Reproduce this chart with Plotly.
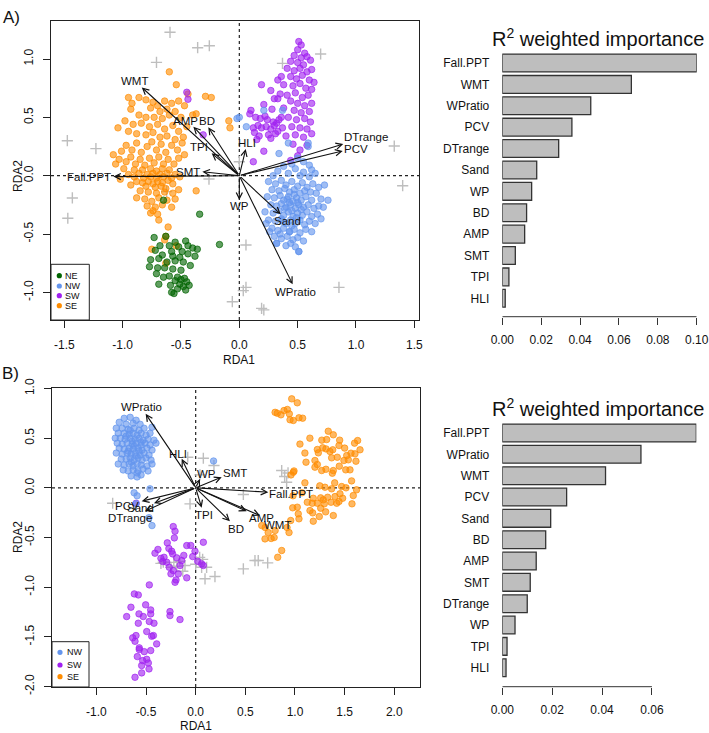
import plotly.graph_objects as go

FONT = "Liberation Sans, Arial, sans-serif"
W, H = 709, 733

# ---------------- Panel A data ----------------
A_SE = [(-0.60,0.89),(-0.54,0.78),(-0.44,0.70),(-0.29,0.68),(-0.24,0.67),(-0.95,0.67),(-0.86,0.67),(-0.92,0.62),(-0.80,0.65),(-0.74,0.63),(-0.70,0.60),(-0.64,0.64),(-0.58,0.62),(-0.52,0.64),(-0.47,0.60),(-0.76,0.58),(-0.68,0.55),(-0.62,0.57),(-0.55,0.55),(-0.93,0.57),(-0.86,0.52),(-0.80,0.50),(-0.73,0.50),(-0.66,0.49),(-0.60,0.52),(-0.50,0.50),(-0.40,0.52),(-0.37,0.53),(-0.09,0.47),(-0.08,0.41),(-1.04,0.41),(-0.98,0.47),(-0.91,0.44),(-0.84,0.45),(-0.77,0.42),(-0.70,0.44),(-0.64,0.40),(-0.57,0.43),(-0.52,0.38),(-0.45,0.42),(-0.95,0.38),(-0.88,0.36),(-0.80,0.35),(-0.74,0.37),(-0.68,0.33),(-0.62,0.34),(-0.55,0.31),(-0.48,0.33),
        (-1.08,0.18),(-1.06,0.10),(-1.01,0.21),(-0.97,0.26),(-0.92,0.22),(-0.88,0.28),(-0.84,0.20),(-0.79,0.25),(-0.75,0.29),(-0.71,0.22),(-0.67,0.27),(-0.63,0.20),(-0.58,0.26),(-0.53,0.22),(-0.49,0.28),(-0.47,0.18),(-1.03,0.14),(-0.97,0.12),(-0.93,0.16),(-0.89,0.10),(-0.85,0.14),(-0.81,0.09),(-0.77,0.15),(-0.73,0.11),(-0.69,0.16),(-0.65,0.10),(-0.61,0.14),(-0.56,0.10),(-0.52,0.15),(-0.90,0.05),(-0.83,0.05),(-0.76,0.06),(-0.71,0.04),(-0.66,0.06),(-0.60,0.05),(-0.99,0.06),
        (-0.95,0.01),(-0.90,-0.01),(-0.86,0.02),(-0.82,-0.02),(-0.79,0.01),(-0.76,-0.01),(-0.74,0.02),(-0.71,-0.02),(-0.68,0.01),(-0.65,-0.01),(-0.62,0.02),(-0.58,-0.02),(-0.55,0.01),(-0.51,-0.01),(-0.88,-0.05),(-0.83,-0.06),(-0.78,-0.05),(-0.74,-0.07),(-0.70,-0.05),(-0.66,-0.06),(-0.61,-0.04),(-0.57,-0.07),(-0.80,-0.09),(-0.72,-0.10),(-0.67,-0.09),(-0.63,-0.11),(-0.93,-0.08),(-1.02,-0.03),
        (-0.85,-0.13),(-0.78,-0.14),(-0.71,-0.15),(-0.64,-0.14),(-0.57,-0.15),(-0.52,-0.12),(-0.37,-0.13),(-0.88,-0.19),(-0.81,-0.20),(-0.75,-0.22),(-0.69,-0.19),(-0.62,-0.21),(-0.55,-0.20),(-0.79,-0.26),(-0.72,-0.27),(-0.66,-0.25),(-0.58,-0.27),(-0.76,-0.32),(-0.70,-0.33),(-0.74,-0.30),(-0.69,-0.38),
        (-0.61,-0.44),(-0.63,-0.52),(-0.75,-0.63),(-0.63,-0.75),(-0.54,-0.60),(-0.64,-0.55)]

A_NW = [(-0.02,0.49),(0.06,0.42),(0.21,0.56),(0.37,0.56),(0.59,0.28),(0.59,0.25),(0.42,0.28),(0.34,0.19),(0.00,0.50),(0.50,0.15),(0.55,0.12),(0.45,0.10),(0.62,0.05),(0.60,0.09),
        (0.38,0.08),(0.48,0.06),(0.55,0.03),(0.33,0.04),(0.42,0.02),(0.52,0.00),(0.60,-0.01),(0.65,0.02),(0.29,0.00),
        (0.25,-0.05),(0.31,-0.07),(0.36,-0.04),(0.40,-0.08),(0.45,-0.05),(0.50,-0.09),(0.54,-0.06),(0.58,-0.10),(0.63,-0.07),(0.68,-0.10),(0.73,-0.08),(0.28,-0.12),(0.34,-0.13),(0.39,-0.11),(0.43,-0.14),(0.47,-0.12),(0.52,-0.15),(0.56,-0.13),(0.61,-0.14),(0.66,-0.15),
        (0.24,-0.18),(0.30,-0.19),(0.35,-0.17),(0.38,-0.21),(0.42,-0.18),(0.46,-0.22),(0.49,-0.19),(0.53,-0.21),(0.57,-0.18),(0.62,-0.21),(0.70,-0.20),(0.76,-0.21),(0.27,-0.25),(0.32,-0.26),(0.36,-0.24),(0.40,-0.27),(0.44,-0.25),(0.48,-0.28),(0.51,-0.25),(0.55,-0.27),(0.59,-0.25),(0.64,-0.28),(0.68,-0.26),(0.72,-0.27),
        (0.22,-0.31),(0.29,-0.32),(0.34,-0.30),(0.38,-0.34),(0.42,-0.31),(0.46,-0.35),(0.50,-0.32),(0.54,-0.34),(0.58,-0.31),(0.62,-0.35),(0.67,-0.33),(0.25,-0.38),(0.31,-0.39),(0.36,-0.37),(0.40,-0.41),(0.44,-0.38),(0.48,-0.41),(0.52,-0.38),(0.56,-0.42),(0.60,-0.39),(0.65,-0.41),(0.70,-0.37),
        (0.28,-0.45),(0.33,-0.47),(0.38,-0.45),(0.43,-0.48),(0.47,-0.46),(0.52,-0.49),(0.57,-0.46),(0.62,-0.48),(0.30,-0.52),(0.36,-0.54),(0.41,-0.52),(0.46,-0.55),(0.50,-0.53),(0.55,-0.56),(0.32,-0.58),(0.40,-0.60),(0.48,-0.61),(0.51,-0.65),(0.44,-0.58),(0.35,-0.50),(0.26,-0.48),(0.23,-0.41),
        (0.41,-0.20),(0.45,-0.30),(0.49,-0.36),(0.43,-0.23),(0.47,-0.16),(0.39,-0.28),(0.53,-0.29),(0.37,-0.39),(0.45,-0.43),(0.50,-0.23),(0.51,-0.65),(0.32,-0.58),(0.43,-0.48)]

A_SW = [(0.51,1.15),(0.53,1.12),(0.50,1.08),(0.56,1.05),(0.47,1.03),(0.53,1.01),(0.58,1.02),(0.61,0.99),(0.44,0.98),(0.50,0.97),(0.55,0.95),(0.41,0.92),(0.47,0.90),(0.52,0.92),(0.58,0.89),(0.62,0.91),(0.36,0.85),(0.44,0.85),(0.49,0.83),(0.54,0.86),(0.60,0.82),(0.64,0.80),(0.38,0.78),(0.46,0.77),(0.52,0.79),(0.57,0.75),(0.62,0.74),(0.35,0.70),(0.41,0.69),(0.48,0.71),(0.54,0.67),(0.59,0.69),(0.30,0.66),(0.44,0.64),(0.50,0.62),(0.56,0.60),(0.62,0.62),(0.38,0.58),(0.47,0.56),(0.53,0.54),(0.60,0.55),(0.42,0.50),(0.49,0.48),(0.56,0.49),(0.61,0.46),(0.45,0.42),(0.52,0.41),(0.58,0.40),(0.62,0.36),(0.55,0.33),(0.48,0.35),(0.58,0.26),(0.52,0.22),(0.46,0.27),(0.50,0.17),(0.44,0.13),
        (0.09,0.53),(0.10,0.56),(0.14,0.50),(0.18,0.49),(0.22,0.51),(0.24,0.48),(0.29,0.46),(0.32,0.45),(0.34,0.48),(0.36,0.50),(0.12,0.41),(0.16,0.43),(0.19,0.41),(0.23,0.42),(0.27,0.40),(0.30,0.43),(0.33,0.38),(0.37,0.41),(0.13,0.37),(0.17,0.34),(0.15,0.31),(0.25,0.35),(0.27,0.32),(0.31,0.36),(0.40,0.34),(0.12,0.12),(0.21,0.21),(0.19,0.78),(0.27,0.73),(0.33,0.82),(0.33,0.66),(0.28,0.57),(0.21,0.61),
        (-0.45,0.715),(-0.44,0.655),(-0.31,0.35)]

A_NE = [(-0.34,-0.33),(-0.17,-0.59),(-0.65,-0.21),(-0.73,-0.53),(-0.63,-0.52),(-0.55,-0.57),(-0.46,-0.56),(-0.44,-0.60),(-0.40,-0.62),(-0.68,-0.60),(-0.60,-0.60),(-0.52,-0.61),(-0.49,-0.65),(-0.58,-0.65),(-0.72,-0.64),(-0.66,-0.68),(-0.57,-0.69),(-0.51,-0.70),(-0.44,-0.67),(-0.38,-0.69),(-0.76,-0.72),(-0.69,-0.71),(-0.62,-0.74),(-0.55,-0.73),(-0.48,-0.74),(-0.42,-0.77),(-0.77,-0.78),(-0.70,-0.79),(-0.64,-0.79),(-0.57,-0.80),(-0.50,-0.81),(-0.71,-0.84),(-0.60,-0.86),(-0.53,-0.87),(-0.50,-0.89),(-0.47,-0.88),(-0.55,-0.90),(-0.45,-0.91),(-0.51,-0.93),(-0.48,-0.95),(-0.43,-0.94),(-0.69,-0.93),(-0.59,-0.94),(-0.53,-0.97),(-0.58,-1.00),(-0.56,-1.01),(-0.46,-0.98),(-0.36,-0.63),(-0.65,-0.87)]

A_OTHER = [(-0.594,1.229),(-0.357,1.097),(-0.257,1.114),(-0.71,0.971),(0.37,0.963),(0.697,1.043),(-1.474,0.30),(-1.229,0.232),(-1.431,-0.191),(-1.47,-0.365),(-0.623,-0.137),(-0.26,-0.029),(0.057,-0.594),(0.057,-0.957),(0.034,-0.985),(-0.06,-1.08),(0.191,-1.137),(0.21,-1.15),(0.854,-0.957),(1.328,0.254),(1.40,-0.086),(0.0,0.12)]

A_VARS = ["WMT","AMP","BD","TPI","HLI","SMT","Fall.PPT","WP","Sand","WPratio","DTrange","PCV"]
A_TIP_X = [-0.836,-0.394,-0.266,-0.237,0.055,-0.317,-1.080,0.000,0.355,0.457,0.891,0.886]
A_TIP_Y = [0.757,0.420,0.415,0.192,0.229,0.034,-0.008,-0.208,-0.331,-0.931,0.272,0.212]
A_LAB_X = [-0.896,-0.465,-0.280,-0.343,0.069,-0.437,-1.285,0.000,0.411,0.480,1.086,1.000]
A_LAB_Y = [0.814,0.471,0.471,0.249,0.278,0.034,-0.008,-0.257,-0.391,-0.997,0.329,0.231]

# ---------------- Panel B data ----------------
B_NW = [(-0.72,0.70),(-0.66,0.71),(-0.60,0.68),(-0.77,0.66),(-0.70,0.64),(-0.63,0.65),(-0.56,0.64),(-0.80,0.60),(-0.74,0.60),(-0.68,0.59),(-0.62,0.60),(-0.57,0.58),(-0.52,0.60),(-0.44,0.61),(-0.78,0.55),(-0.72,0.55),(-0.67,0.54),(-0.63,0.55),(-0.59,0.53),(-0.55,0.55),(-0.50,0.53),(-0.46,0.55),(-0.81,0.50),(-0.76,0.50),(-0.71,0.49),(-0.66,0.50),(-0.61,0.49),(-0.57,0.50),(-0.53,0.48),(-0.48,0.49),(-0.42,0.48),(-0.79,0.45),(-0.74,0.44),(-0.69,0.45),(-0.64,0.44),(-0.60,0.45),(-0.55,0.43),(-0.51,0.45),(-0.46,0.43),(-0.40,0.45),(-0.77,0.40),(-0.72,0.39),(-0.67,0.40),(-0.63,0.39),(-0.58,0.40),(-0.54,0.38),(-0.49,0.40),(-0.44,0.38),(-0.80,0.35),(-0.74,0.34),(-0.69,0.35),(-0.65,0.34),(-0.61,0.35),(-0.56,0.33),(-0.52,0.35),(-0.47,0.33),(-0.75,0.29),(-0.70,0.29),(-0.66,0.30),(-0.62,0.28),(-0.58,0.30),(-0.54,0.28),(-0.50,0.30),(-0.45,0.28),(-0.78,0.24),(-0.72,0.23),(-0.67,0.24),(-0.63,0.22),(-0.59,0.24),(-0.55,0.23),(-0.49,0.22),(-0.44,0.24),(-0.73,0.18),(-0.68,0.17),(-0.63,0.18),(-0.58,0.17),(-0.53,0.19),(-0.48,0.17),(-0.65,0.12),(-0.59,0.11),(-0.55,0.13),(-0.59,0.15),(-0.59,-0.08),(-0.60,-0.16),(-0.44,-0.38),(0.18,0.27),(-0.62,-0.05),(-0.66,0.58),(-0.70,0.52),(-0.64,0.47),(-0.62,0.42),(-0.68,0.37),(-0.60,0.32),(-0.65,0.26),(-0.55,0.46),(-0.57,0.37),(-0.46,-0.01),(-0.47,-0.30)]

B_SW = [(-0.467,-0.977),(-0.618,-1.068),(-0.578,-1.078),(-0.652,-1.202),(-0.695,-1.296),(-0.504,-1.178),(-0.453,-1.229),(-0.453,-1.269),(-0.571,-1.269),(-0.528,-1.296),(-0.259,-1.246),(-0.259,-1.286),(-0.158,-1.326),(-0.578,-1.363),(-0.467,-1.346),(-0.420,-1.363),(-0.493,-1.447),(-0.443,-1.494),(-0.601,-1.487),(-0.426,-1.487),(-0.611,-1.545),(-0.393,-1.571),(-0.568,-1.611),(-0.568,-1.628),(-0.518,-1.649),(-0.453,-1.638),(-0.588,-1.699),(-0.534,-1.739),(-0.493,-1.726),(-0.477,-1.763),(-0.544,-1.789),(-0.470,-1.823),(-0.544,-1.863),(-0.611,-1.907),(-0.634,-1.510),
        (-0.226,-0.390),(-0.208,-0.437),(-0.286,-0.554),(-0.215,-0.504),(-0.090,-0.581),(0.077,-0.548),(-0.007,-0.638),(-0.410,-0.658),(-0.242,-0.638),(-0.232,-0.665),(-0.319,-0.699),(-0.191,-0.705),(-0.141,-0.732),(-0.030,-0.692),(-0.292,-0.749),(-0.266,-0.800),(-0.226,-0.833),(-0.158,-0.782),(-0.249,-0.866),(-0.175,-0.866),(-0.090,-0.906),(-0.198,-0.927),(-0.332,-0.742),(0.060,-0.765),(-0.38,-0.62),(-0.35,-0.71),(-0.27,-0.61),(-0.12,-0.68),(-0.05,-0.58),(0.02,-0.74),(-0.208,-0.951),(0.077,-0.782),(-0.60,-0.155)]

B_SE = [(0.967,0.896),(1.023,0.856),(0.822,0.751),(0.859,0.735),(0.889,0.778),(0.923,0.789),(0.943,0.745),(0.950,0.685),(0.983,0.678),(1.040,0.705),(1.077,0.701),(0.800,0.760),
        (1.335,0.570),(1.386,0.534),(1.319,0.486),(1.631,0.476),(1.443,0.426),(1.225,0.386),(1.279,0.403),(1.312,0.392),(1.352,0.366),(1.380,0.383),(1.235,0.352),(1.655,0.383),(1.604,0.342),(1.564,0.349),(1.521,0.325),(1.111,0.258),(1.201,0.275),(1.225,0.235),(1.369,0.302),(1.426,0.308),(1.493,0.275),(1.537,0.282),(1.614,0.268),(1.201,0.208),(1.269,0.174),(1.312,0.187),(1.386,0.174),(1.446,0.218),(1.511,0.181),(1.554,0.181),(1.376,0.147),(1.302,0.006),(1.369,-0.010),(1.470,0.013),(1.514,0.000),(1.184,-0.105),(1.259,-0.101),(1.329,-0.095),(1.403,-0.088),(1.453,-0.060),(1.480,-0.105),(1.587,-0.078),(1.124,-0.145),(1.174,-0.155),(1.225,-0.155),(1.285,-0.121),(1.295,-0.161),(1.363,-0.145),(1.420,-0.155),(1.443,-0.138),(1.574,-0.161),(1.023,-0.195),(0.977,-0.201),(1.151,-0.229),(1.178,-0.252),(1.259,-0.205),(1.309,-0.242),(1.386,-0.279),(1.033,-0.262),(1.040,-0.312),(1.245,-0.289),(1.184,-0.336),(0.957,-0.329),
        (0.665,-0.380),(0.698,-0.514),(0.800,-0.430),(0.866,-0.631),(0.826,-0.699),(0.760,-0.510),(0.790,-0.500),(0.700,-0.400),(0.730,-0.450),(0.940,-0.450),(0.920,-0.400),
        (0.983,0.157),(0.990,0.170),(0.960,0.130),(1.050,0.440),(1.100,0.350),(1.150,0.500),(1.270,0.480),(1.450,0.480),(1.500,0.400),(1.600,0.450),(1.570,0.070),(1.400,0.050),(1.250,0.020),(1.100,0.050),(1.070,-0.050),(0.980,-0.080),(1.620,-0.020)]

B_OTHER = [(-0.08,0.308),(0.077,0.298),(0.184,0.225),(0.043,0.13),(-0.057,-0.161),(-0.836,-0.155),(0.48,-0.067),(0.866,0.174),(0.896,0.114),(0.916,0.056),(0.93,0.15),(-0.326,-0.749),(-0.35,-0.76),(-0.22,-0.75),(-0.16,-0.74),(-0.108,-0.782),(0.0,-0.77),(0.04,-0.70),(0.07,-0.72),(0.11,-0.80),(0.094,-0.916),(0.194,-0.893),(0.48,-0.816),(0.597,-0.732),(0.63,-0.732),(0.725,-0.755),(-0.19,-0.79),(-0.13,-0.84),(-0.25,-0.80),(0.06,-0.80)]

B_VARS = ["WPratio","HLI","WP","SMT","Fall.PPT","AMP","WMT","BD","TPI","PCV","Sand","DTrange"]
B_TIP_X = [-0.504,-0.141,0.043,0.262,0.731,0.513,0.648,0.345,0.060,-0.544,-0.420,-0.511]
B_TIP_Y = [0.745,0.292,0.090,0.107,-0.044,-0.235,-0.279,-0.336,-0.200,-0.135,-0.155,-0.235]
B_LAB_X = [-0.544,-0.175,0.104,0.396,0.957,0.658,0.826,0.406,0.084,-0.695,-0.554,-0.662]
B_LAB_Y = [0.812,0.342,0.141,0.147,-0.060,-0.306,-0.373,-0.413,-0.269,-0.185,-0.208,-0.306]

# ---------------- Bar data ----------------
A_BAR_LABELS = ["Fall.PPT","WMT","WPratio","PCV","DTrange","Sand","WP","BD","AMP","SMT","TPI","HLI"]
A_BAR_VALUES = [0.1000,0.0664,0.0455,0.0358,0.0290,0.0177,0.0151,0.0125,0.0115,0.0067,0.0034,0.0015]
B_BAR_LABELS = ["Fall.PPT","WPratio","WMT","PCV","Sand","BD","AMP","SMT","DTrange","WP","TPI","HLI"]
B_BAR_VALUES = [0.0778,0.0556,0.0414,0.0258,0.0194,0.0174,0.0136,0.0112,0.0100,0.0051,0.0019,0.0015]

A_X_TICKS = [-1.5,-1.0,-0.5,0.0,0.5,1.0,1.5]
A_Y_TICKS = [-1.0,-0.5,0.0,0.5,1.0]
B_X_TICKS = [-1.0,-0.5,0.0,0.5,1.0,1.5,2.0]
B_Y_TICKS = [-2.0,-1.5,-1.0,-0.5,0.0,0.5,1.0]
A_BAR_TICKS = [0.00,0.02,0.04,0.06,0.08,0.10]
B_BAR_TICKS = [0.00,0.02,0.04,0.06]

COLORS = {"NE": (0,100,0), "NW": (100,149,237), "SW": (160,32,240), "SE": (255,140,0)}
GRAY = "#BEBEBE"

def px2x(p): return p / W
def px2y(p): return 1 - p / H

fig = go.Figure()

def add_points(pts, group, xa, ya, alpha=0.62):
    r, g, b = COLORS[group]
    fig.add_trace(go.Scatter(
        x=[p[0] for p in pts], y=[p[1] for p in pts], mode="markers", xaxis=xa, yaxis=ya,
        showlegend=False, hoverinfo="skip", name=group,
        marker=dict(size=6.5, color=f"rgba({r},{g},{b},{alpha})",
                    line=dict(width=0.8, color=f"rgba({r},{g},{b},0.85)"))))

def add_other(pts, xa, ya):
    fig.add_trace(go.Scatter(
        x=[p[0] for p in pts], y=[p[1] for p in pts], mode="markers", xaxis=xa, yaxis=ya,
        showlegend=False, hoverinfo="skip",
        marker=dict(symbol="cross-thin", size=8, line=dict(width=1.4, color=GRAY))))

# panel A
add_other(A_OTHER, "x", "y")
add_points(A_SE, "SE", "x", "y")
add_points(A_NE, "NE", "x", "y")
add_points(A_SW, "SW", "x", "y")
add_points(A_NW, "NW", "x", "y")
# panel B
add_other(B_OTHER, "x2", "y2")
add_points(B_SW, "SW", "x2", "y2")
add_points(B_SE, "SE", "x2", "y2")
add_points(B_NW, "NW", "x2", "y2")

# bars
fig.add_trace(go.Bar(x=A_BAR_VALUES, y=A_BAR_LABELS, orientation="h", xaxis="x3", yaxis="y3",
                     width=0.833, marker=dict(color="#BEBEBE", line=dict(color="#333333", width=1.3)),
                     showlegend=False, hoverinfo="skip"))
fig.add_trace(go.Bar(x=B_BAR_VALUES, y=B_BAR_LABELS, orientation="h", xaxis="x4", yaxis="y4",
                     width=0.833, marker=dict(color="#BEBEBE", line=dict(color="#333333", width=1.3)),
                     showlegend=False, hoverinfo="skip"))

tickfont = dict(family=FONT, size=12, color="#111")

def fmt(v, d=1):
    return f"{v:.{d}f}"

scat_common = dict(showgrid=False, zeroline=False, showline=True, mirror=True, linecolor="#222",
                   linewidth=1, ticks="outside", ticklen=7, tickcolor="#222", tickfont=tickfont,
                   automargin=False)

layout = dict(
    width=W, height=H, margin=dict(l=0, r=0, t=0, b=0, pad=0, autoexpand=False),
    paper_bgcolor="white", plot_bgcolor="white", showlegend=False,
    xaxis=dict(domain=[px2x(51), px2x(419)], range=[-1.614, 1.540], anchor="y",
               tickvals=A_X_TICKS, ticktext=[fmt(v) for v in A_X_TICKS], ticklabelstandoff=7, **scat_common),
    yaxis=dict(domain=[px2y(320), px2y(21)], range=[-1.237, 1.326], anchor="x",
               tickvals=A_Y_TICKS, ticktext=[fmt(v) for v in A_Y_TICKS], tickangle=-90, ticklabelstandoff=5, **scat_common),
    xaxis2=dict(domain=[px2x(52), px2x(420)], range=[-1.447, 2.259], anchor="y2",
                tickvals=B_X_TICKS, ticktext=[fmt(v) for v in B_X_TICKS], ticklabelstandoff=7, **scat_common),
    yaxis2=dict(domain=[px2y(687), px2y(388)], range=[-2.005, 1.005], anchor="x2",
                tickvals=B_Y_TICKS, ticktext=[fmt(v) for v in B_Y_TICKS], tickangle=-90, ticklabelstandoff=5, **scat_common),
    xaxis3=dict(domain=[px2x(502.3), px2x(696.7)], range=[0, 0.1], anchor="y3", showgrid=False, zeroline=False,
                showline=False, ticks="outside", ticklen=7, tickcolor="#333", tickfont=tickfont, automargin=False,
                tickvals=A_BAR_TICKS, ticktext=[fmt(v, 2) for v in A_BAR_TICKS], ticklabelstandoff=5),
    yaxis3=dict(domain=[px2y(316.7), px2y(52)], range=[-0.86, 11.514], anchor="x3", showgrid=False,
                zeroline=False, showline=False, ticks="", tickfont=tickfont, ticklabelstandoff=12, automargin=False,
                categoryorder="array", categoryarray=A_BAR_LABELS[::-1]),
    xaxis4=dict(domain=[px2x(502.3), px2x(696.3)], range=[0, 0.0778], anchor="y4", showgrid=False, zeroline=False,
                showline=False, ticks="outside", ticklen=7, tickcolor="#333", tickfont=tickfont, automargin=False,
                tickvals=B_BAR_TICKS, ticktext=[fmt(v, 2) for v in B_BAR_TICKS], ticklabelstandoff=5),
    yaxis4=dict(domain=[px2y(686.7), px2y(420)], range=[-0.89, 11.609], anchor="x4", showgrid=False,
                zeroline=False, showline=False, ticks="", tickfont=tickfont, ticklabelstandoff=12, automargin=False,
                categoryorder="array", categoryarray=B_BAR_LABELS[::-1]),
)
fig.update_layout(**layout)

shapes = []
# dotted zero lines
for xa, ya in (("x", "y"), ("x2", "y2")):
    shapes.append(dict(type="line", xref=xa, yref=f"{ya} domain", x0=0, x1=0, y0=0, y1=1,
                       line=dict(color="#222", width=1.2, dash="dot"), layer="below"))
    shapes.append(dict(type="line", xref=f"{xa} domain", yref=ya, x0=0, x1=1, y0=0, y1=0,
                       line=dict(color="#222", width=1.2, dash="dot"), layer="below"))
# bar axis lines
shapes.append(dict(type="line", xref="x3", yref="y3 domain", x0=A_BAR_TICKS[0], x1=A_BAR_TICKS[-1], y0=0, y1=0,
                   line=dict(color="#333", width=1)))
shapes.append(dict(type="line", xref="x4", yref="y4 domain", x0=B_BAR_TICKS[0], x1=B_BAR_TICKS[-1], y0=0, y1=0,
                   line=dict(color="#333", width=1)))

annotations = []
afont = dict(family=FONT, size=11.5, color="#111")

def add_arrows(names, tx, ty, lx, ly, xa, ya):
    for n, x, y, a, b in zip(names, tx, ty, lx, ly):
        annotations.append(dict(x=x, y=y, ax=0, ay=0, xref=xa, yref=ya, axref=xa, ayref=ya,
                                text="", showarrow=True, arrowhead=5, arrowsize=1.1, arrowwidth=1.1,
                                arrowcolor="#111", standoff=0, startstandoff=0))
        annotations.append(dict(x=a, y=b, xref=xa, yref=ya, text=n, showarrow=False, font=afont,
                                xanchor="center", yanchor="middle"))

add_arrows(A_VARS, A_TIP_X, A_TIP_Y, A_LAB_X, A_LAB_Y, "x", "y")
add_arrows(B_VARS, B_TIP_X, B_TIP_Y, B_LAB_X, B_LAB_Y, "x2", "y2")

def ann(xp, yp, text, size, **kw):
    d = dict(x=px2x(xp), y=px2y(yp), xref="paper", yref="paper", text=text, showarrow=False,
             xanchor="center", yanchor="middle", font=dict(family=FONT, size=size, color="#111"))
    d.update(kw)
    return d

annotations += [
    ann(239.3, 360, "RDA1", 12),
    ann(18, 176, "RDA2", 12, textangle=-90),
    ann(195.7, 726, "RDA1", 12),
    ann(18, 537, "RDA2", 12, textangle=-90),
    ann(1, 18, "A)", 17, xanchor="left"),
    ann(0, 373, "B)", 17, xanchor="left"),
    ann(598, 38, "R<sup>2</sup> weighted importance", 20),
    ann(598, 407, "R<sup>2</sup> weighted importance", 20),
]

# manual legends
LEG_A = ["NE", "NW", "SW", "SE"]
LEG_B = ["NW", "SW", "SE"]
def add_legend(groups, box, marker_x, text_x, ys):
    x0, y0, x1, y1 = box
    shapes.append(dict(type="rect", xref="paper", yref="paper", x0=px2x(x0), x1=px2x(x1),
                       y0=px2y(y1), y1=px2y(y0), line=dict(color="#222", width=1), fillcolor="white"))
    for g, yy in zip(groups, ys):
        r, gg, b = COLORS[g]
        shapes.append(dict(type="circle", xref="paper", yref="paper", xsizemode="pixel", ysizemode="pixel",
                           xanchor=px2x(marker_x), yanchor=px2y(yy), x0=-2.6, x1=2.6, y0=-2.6, y1=2.6,
                           fillcolor=f"rgb({r},{gg},{b})", line=dict(width=0)))
        annotations.append(ann(text_x, yy, g, 9, xanchor="left", borderpad=0))

add_legend(LEG_A, (51, 264.3, 89.3, 320), 59.3, 64, [275.7, 286, 295.7, 305.7])
add_legend(LEG_B, (52, 641.7, 89, 687), 60, 66, [652.3, 665, 676.7])

fig.update_layout(shapes=shapes, annotations=annotations)
fig.write_html("out.html", config={"displayModeBar": False},
               post_script="document.body.style.margin='0px';document.body.style.padding='0px';")
